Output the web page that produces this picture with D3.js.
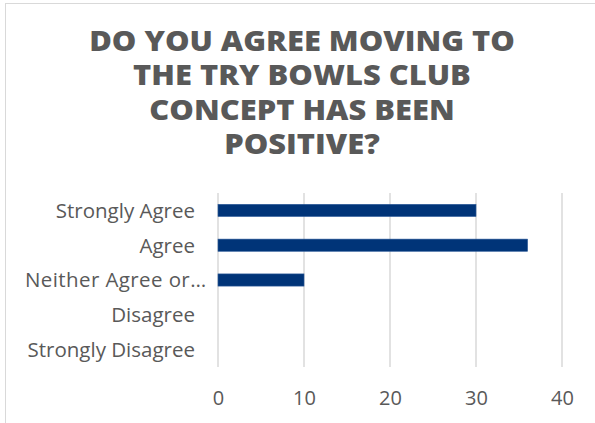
<!DOCTYPE html>
<html>
<head>
<meta charset="utf-8">
<script src="https://cdn.jsdelivr.net/npm/d3@7"></script>
<style>
  html, body { margin: 0; padding: 0; background: #fff; }
  svg { display: block; }
</style>
</head>
<body>
<script>
// Survey responses
const categories = ["Strongly Agree", "Agree", "Neither Agree or…", "Disagree", "Strongly Disagree"];
const counts = [30, 36, 10, 0, 0];
const tickValues = [0, 10, 20, 30, 40];
const titleLines = ["DO YOU AGREE MOVING TO", "THE TRY BOWLS CLUB", "CONCEPT HAS BEEN", "POSITIVE?"];

const W = 595, H = 423;
const font = "'Open Sans', Lato, sans-serif";
const textColor = "#595959";

const svg = d3.select("body").append("svg").attr("width", W).attr("height", H);

// chart area border
svg.append("rect")
  .attr("x", 5.5).attr("y", 3.5).attr("width", W + 10).attr("height", H + 10)
  .attr("fill", "#fff").attr("stroke", "#d9d9d9").attr("stroke-width", 1);

// title, wrapped over four centred lines, with wide caps
const titleG = svg.append("g");
const title = titleG.append("text")
  .attr("text-anchor", "middle")
  .attr("font-family", font).attr("font-weight", 800)
  .attr("font-size", 27.5).attr("fill", textColor);
titleLines.forEach((t, i) => {
  title.append("tspan").attr("x", 0).attr("y", 51 + i * 34.3).text(t);
});
const natural = title.select("tspan").node().getComputedTextLength();
const stretch = Math.max(1, 426 / natural);
titleG.attr("transform", `translate(302,0) scale(${stretch},1)`);

const x = d3.scaleLinear().domain([0, 40]).range([218, 562]);
const y = d3.scaleBand().domain(categories).range([193, 367]).paddingInner(0.65).paddingOuter(0.325);

// gridlines
svg.append("g").selectAll("line").data(tickValues).join("line")
  .attr("x1", d => x(d)).attr("x2", d => x(d))
  .attr("y1", 193).attr("y2", 367)
  .attr("stroke", "#d9d9d9").attr("stroke-width", 1.5);

// bars
svg.append("g").selectAll("rect").data(categories).join("rect")
  .attr("x", x(0))
  .attr("y", d => y(d))
  .attr("width", (d, i) => x(counts[i]) - x(0))
  .attr("height", y.bandwidth())
  .attr("fill", "#003478")
  .attr("stroke", "#2e5c9a").attr("stroke-width", 0.6);

// x axis tick labels
const xAxis = d3.axisBottom(x).tickValues(tickValues).tickSize(0).tickPadding(0);
const gx = svg.append("g").attr("transform", "translate(0,398)").call(xAxis);
gx.select(".domain").remove();
gx.selectAll("text")
  .attr("font-family", font).attr("font-size", 20).attr("fill", textColor)
  .attr("y", 0).attr("dy", "0.36em");

// category labels
const yAxis = d3.axisLeft(y).tickSize(0).tickPadding(0);
const gy = svg.append("g").attr("transform", "translate(195,0)").call(yAxis);
gy.select(".domain").remove();
gy.selectAll("text")
  .attr("font-family", font).attr("font-size", 20.5).attr("fill", textColor)
  .attr("dy", "0.36em");
// truncated label runs past the label column, starting at the left edge
gy.selectAll("text").filter(d => d.endsWith("…"))
  .attr("text-anchor", "start").attr("x", 25 - 195)
  .attr("letter-spacing", 0.4);
</script>
</body>
</html>
